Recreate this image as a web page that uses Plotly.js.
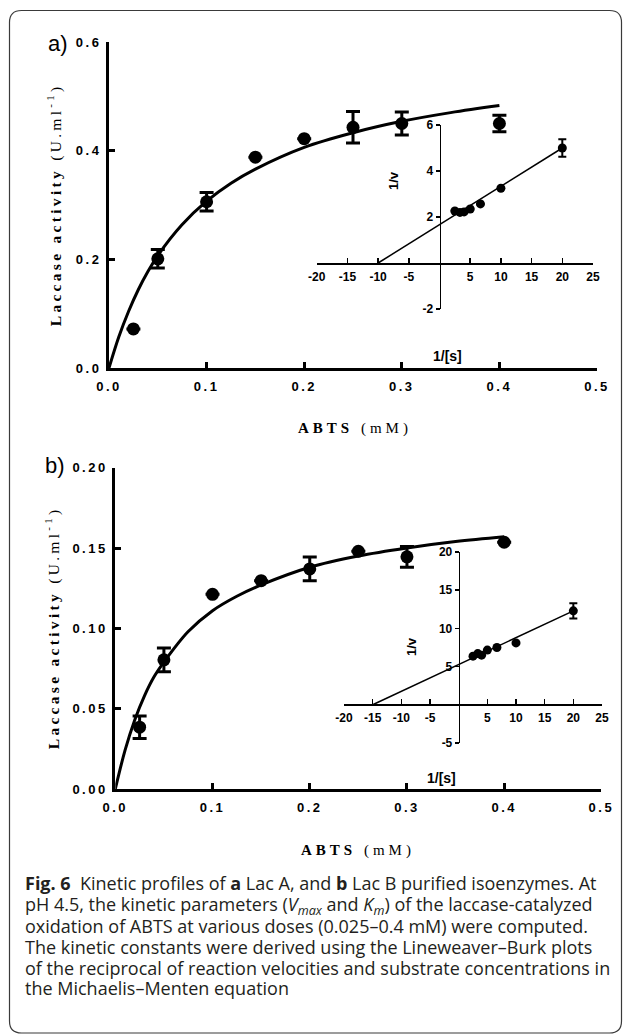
<!DOCTYPE html>
<html>
<head>
<meta charset="utf-8">
<script src="https://cdn.plot.ly/plotly-3.0.1.min.js"></script>
<style>
html,body{margin:0;padding:0;background:#fff;}
#chart{width:630px;height:1035px;}
</style>
</head>
<body>
<div id="chart"></div>
<script>
// ---------- data ----------
const abts = [0.025, 0.05, 0.1, 0.15, 0.2, 0.25, 0.3, 0.4];
const lacA = [0.072, 0.201, 0.306, 0.388, 0.422, 0.443, 0.450, 0.450];
const lacAErr = [null, 0.017, 0.017, null, null, 0.029, 0.021, 0.015];
const lacB = [0.0385, 0.0804, 0.1212, 0.1297, 0.137, 0.148, 0.1445, 0.1536];
const lacBErr = [0.007, 0.0074, null, null, 0.0074, null, 0.0065, null];

const fitX = [0, 0.01, 0.02, 0.03, 0.04, 0.05, 0.075, 0.1, 0.125, 0.15, 0.2, 0.25, 0.3, 0.35, 0.4];
const fitA = [0, 0.057, 0.104, 0.144, 0.178, 0.207, 0.264, 0.307, 0.340, 0.366, 0.406, 0.433, 0.454, 0.470, 0.483];
const fitB = [0, 0.024, 0.043, 0.058, 0.070, 0.079, 0.098, 0.111, 0.120, 0.127, 0.138, 0.145, 0.150, 0.154, 0.157];

const invS = [2.5, 3.33, 4, 5, 6.67, 10, 20];
const invVA = [2.26, 2.2, 2.22, 2.35, 2.57, 3.25, 5.0];
const invVAErr = [null, null, null, null, null, null, 0.38];
const invVB = [6.37, 6.7, 6.5, 7.16, 7.5, 8.1, 12.3];
const invVBErr = [null, null, null, null, null, null, 1.0];

const lbAX = [-10, 20];
const lbAY = [0, 5.0];
const lbBX = [-15, 20];
const lbBY = [0, 12.3];

const insetXTicks = [-20, -15, -10, -5, 5, 10, 15, 20, 25];
const insetXTickText = ['-20', '-15', '-10', '-5', '5', '10', '15', '20', '25'];
const insetAYTicks = [-2, 2, 4, 6];
const insetAYTickText = ['-2', '2', '4', '6'];
const insetBYTicks = [-5, 5, 10, 15, 20];
const insetBYTickText = ['-5', '5', '10', '15', '20'];

const captionLines = [
  "<b>Fig. 6</b>  Kinetic profiles of <b>a</b> Lac A, and <b>b</b> Lac B purified isoenzymes. At",
  "pH 4.5, the kinetic parameters (<i>V<sub>max</sub></i> and <i>K<sub>m</sub></i>) of the laccase-catalyzed",
  "oxidation of ABTS at various doses (0.025–0.4 mM) were computed.",
  "The kinetic constants were derived using the Lineweaver–Burk plots",
  "of the reciprocal of reaction velocities and substrate concentrations in",
  "the Michaelis–Menten equation"
];

// ---------- layout helpers (pixel -> paper) ----------
const W = 630, H = 1035;
const px = v => v / W;
const py = v => 1 - v / H;

const SANS = 'Liberation Sans, Arial, sans-serif';
const SERIF = 'Liberation Serif, Times New Roman, serif';

function mainAxis(extra) {
  return Object.assign({
    showline: true, linecolor: '#000', linewidth: 3,
    ticks: 'inside', ticklen: 6, tickwidth: 3, tickcolor: '#000',
    showgrid: false, zeroline: false, fixedrange: true,
    tickfont: {family: SANS, size: 13, color: '#000', weight: 'bold'}
  }, extra);
}
function insetAxis(extra) {
  return Object.assign({
    showline: true, linecolor: '#000', linewidth: 1.5,
    tickwidth: 1.5, tickcolor: '#000', tickmode: 'array',
    showgrid: false, zeroline: false, fixedrange: true, anchor: 'free',
    tickfont: {family: SANS, size: 12, color: '#000', weight: 'bold'}
  }, extra);
}

const traces = [
  // panel a main
  {x: fitX, y: fitA, xaxis: 'x', yaxis: 'y', mode: 'lines', line: {color: '#000', width: 3, shape: 'spline', smoothing: 1}},
  {x: abts, y: lacA, xaxis: 'x', yaxis: 'y', mode: 'markers', marker: {color: '#000', size: 13}, cliponaxis: false,
   error_y: {type: 'data', array: lacAErr, visible: true, color: '#000', thickness: 3, width: 7}},
  // panel a inset
  {x: lbAX, y: lbAY, xaxis: 'x2', yaxis: 'y2', mode: 'lines', line: {color: '#000', width: 1.5}},
  {x: invS, y: invVA, xaxis: 'x2', yaxis: 'y2', mode: 'markers', marker: {color: '#000', size: 9}, cliponaxis: false,
   error_y: {type: 'data', array: invVAErr, visible: true, color: '#000', thickness: 2, width: 4}},
  // panel b main
  {x: fitX, y: fitB, xaxis: 'x3', yaxis: 'y3', mode: 'lines', line: {color: '#000', width: 3, shape: 'spline', smoothing: 1}},
  {x: abts, y: lacB, xaxis: 'x3', yaxis: 'y3', mode: 'markers', marker: {color: '#000', size: 13}, cliponaxis: false,
   error_y: {type: 'data', array: lacBErr, visible: true, color: '#000', thickness: 3, width: 7}},
  // panel b inset
  {x: lbBX, y: lbBY, xaxis: 'x4', yaxis: 'y4', mode: 'lines', line: {color: '#000', width: 1.5}},
  {x: invS, y: invVB, xaxis: 'x4', yaxis: 'y4', mode: 'markers', marker: {color: '#000', size: 9}, cliponaxis: false,
   error_y: {type: 'data', array: invVBErr, visible: true, color: '#000', thickness: 2, width: 4}}
];

const annotations = [];
function ann(text, x, y, opts) {
  annotations.push(Object.assign({
    text: text, x: px(x), y: py(y), xref: 'paper', yref: 'paper',
    showarrow: false, xanchor: 'center', yanchor: 'middle'
  }, opts));
}
ann('a)', 58, 44, {font: {family: SANS, size: 22, color: '#000'}});
ann('b)', 55, 465, {font: {family: SANS, size: 22, color: '#000'}});
ann('<b>Laccase activity</b> (U.ml<sup>-1</sup>)', 54, 205, {textangle: -90, font: {family: SERIF, size: 15.5, color: '#000'}});
ann('<b>Laccase activity</b> (U.ml<sup>-1</sup>)', 52, 628, {textangle: -90, font: {family: SERIF, size: 15.5, color: '#000'}});
ann('<b>ABTS</b> (mM)', 355, 428, {font: {family: SERIF, size: 15, color: '#000'}});
ann('<b>ABTS</b> (mM)', 358, 850, {font: {family: SERIF, size: 15, color: '#000'}});
ann('<b>1/v</b>', 394, 181, {textangle: -90, font: {family: SANS, size: 13, color: '#000'}});
ann('<b>1/v</b>', 411, 647, {textangle: -90, font: {family: SANS, size: 13, color: '#000'}});
ann('<b>1/[s]</b>', 447, 356, {font: {family: SANS, size: 14, color: '#000'}});
ann('<b>1/[s]</b>', 441, 778, {font: {family: SANS, size: 14, color: '#000'}});
const capY = [883, 905, 926, 947, 968, 988];
captionLines.forEach((t, i) => ann(t, 23, capY[i], {xanchor: 'left', align: 'left', font: {family: 'Open Sans, Noto Sans, sans-serif', size: 18, color: '#231f20'}}));

const r = 12, x0 = 9.5, x1 = 621.5, y0 = 10.5, y1 = 1033;
const framePath = `M ${px(x0 + r)} ${py(y0)} L ${px(x1 - r)} ${py(y0)} Q ${px(x1)} ${py(y0)} ${px(x1)} ${py(y0 + r)} ` +
  `L ${px(x1)} ${py(y1 - r)} Q ${px(x1)} ${py(y1)} ${px(x1 - r)} ${py(y1)} L ${px(x0 + r)} ${py(y1)} ` +
  `Q ${px(x0)} ${py(y1)} ${px(x0)} ${py(y1 - r)} L ${px(x0)} ${py(y0 + r)} Q ${px(x0)} ${py(y0)} ${px(x0 + r)} ${py(y0)} Z`;

const layout = {
  width: W, height: H,
  margin: {l: 0, r: 0, t: 0, b: 0, pad: 0},
  paper_bgcolor: '#fff', plot_bgcolor: 'rgba(0,0,0,0)',
  showlegend: false,
  xaxis: mainAxis({domain: [px(109), px(597)], range: [0, 0.5], dtick: 0.1, tickformat: '.1f', anchor: 'y', ticklabelstandoff: 4}),
  yaxis: mainAxis({domain: [py(368), py(42)], range: [0, 0.6], dtick: 0.2, tickformat: '.1f', anchor: 'x', ticklabelstandoff: 2}),
  xaxis2: insetAxis({domain: [px(316.7), px(593)], range: [-20, 25], position: py(263), tickvals: insetXTicks, ticktext: insetXTickText, ticks: 'inside', ticklen: 5, ticklabelstandoff: 2}),
  yaxis2: insetAxis({domain: [py(309), py(125)], range: [-2, 6], position: px(439.5), tickvals: insetAYTicks, ticktext: insetAYTickText, ticks: 'outside', ticklen: 4, ticklabelstandoff: 0}),
  xaxis3: mainAxis({domain: [px(115.3), px(601.4)], range: [0, 0.5], dtick: 0.1, tickformat: '.1f', anchor: 'y3', ticklabelstandoff: 4}),
  yaxis3: mainAxis({domain: [py(789), py(467.7)], range: [0, 0.2], dtick: 0.05, tickformat: '.2f', anchor: 'x3', ticklabelstandoff: 2}),
  xaxis4: insetAxis({domain: [px(344), px(602)], range: [-20, 25], position: py(704), tickvals: insetXTicks, ticktext: insetXTickText, ticks: 'inside', ticklen: 5, ticklabelstandoff: 2}),
  yaxis4: insetAxis({domain: [py(743), py(552)], range: [-5, 20], position: px(458.7), tickvals: insetBYTicks, ticktext: insetBYTickText, ticks: 'outside', ticklen: 4, ticklabelstandoff: 0}),
  annotations: annotations,
  shapes: [{type: 'path', xref: 'paper', yref: 'paper', path: framePath, line: {color: '#3a3a3a', width: 1.2}, fillcolor: 'rgba(0,0,0,0)', layer: 'below'}]
};

Plotly.newPlot('chart', traces, layout, {staticPlot: true, displayModeBar: false}).then(() => {
  document.querySelectorAll('g.subplot.xy text, g.subplot.x3y3 text').forEach(t => {
    t.style.letterSpacing = '2.5px';
  });
  document.querySelectorAll('.annotation-text').forEach(t => {
    const s = t.textContent;
    if (s.indexOf('Laccase') === 0) t.style.letterSpacing = '3.3px';
    if (s.indexOf('ABTS') === 0) t.style.letterSpacing = '4px';
  });
});
</script>
</body>
</html>
